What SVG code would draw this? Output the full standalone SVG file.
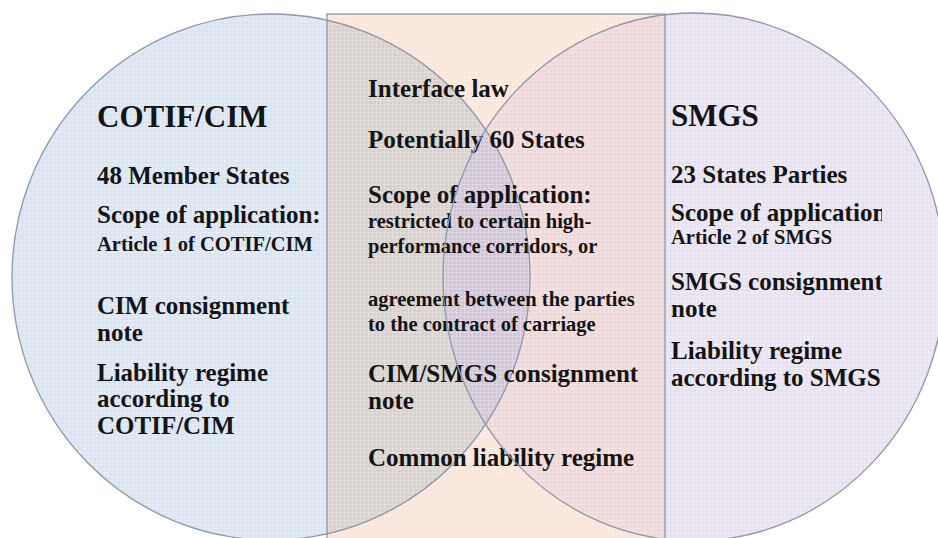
<svg xmlns="http://www.w3.org/2000/svg" width="938" height="538" viewBox="0 0 938 538">
  <style>
    .t { font-family: "Liberation Serif", "Times New Roman", serif; font-weight: bold; fill: #141414; }
    .xl { font-size: 31px; }
    .l { font-size: 25px; }
    .s { font-size: 20.5px; }
    .edge { fill: none; stroke: #8b98ad; stroke-width: 1.3; }
  </style>
  <defs>
    <clipPath id="clip-rect"><rect x="327" y="14" width="338" height="540"/></clipPath>
    <clipPath id="clip-left"><ellipse cx="271" cy="277" rx="259" ry="263"/></clipPath>
    <clipPath id="clip-union">
      <ellipse cx="271" cy="277" rx="259" ry="263"/>
      <rect x="327" y="14" width="338" height="540"/>
      <ellipse cx="694" cy="277" rx="251" ry="264"/>
    </clipPath>
    <clipPath id="clip-right-text"><rect x="660" y="0" width="222" height="538"/></clipPath>
    <pattern id="grid" width="4" height="4" patternUnits="userSpaceOnUse">
      <path d="M0 0.5H4M0.5 0V4" stroke="#ffffff" stroke-opacity="0.22" stroke-width="1" fill="none"/>
    </pattern>
  </defs>
  <rect width="938" height="538" fill="#ffffff"/>

  <g id="region-fills">
    <ellipse cx="271" cy="277" rx="259" ry="263" fill="#dae5f2"/>
    <rect x="327" y="14" width="338" height="540" fill="#fce5d6"/>
    <ellipse cx="694" cy="277" rx="251" ry="264" fill="#e8e2f0"/>
    <ellipse cx="271" cy="277" rx="259" ry="263" fill="#d9d1cd" clip-path="url(#clip-rect)"/>
    <ellipse cx="694" cy="277" rx="251" ry="264" fill="#f1d7d8" clip-path="url(#clip-rect)"/>
    <g clip-path="url(#clip-left)">
      <ellipse cx="694" cy="277" rx="251" ry="264" fill="#d3c6d8"/>
    </g>
    <rect width="938" height="538" fill="url(#grid)" clip-path="url(#clip-union)"/>
  </g>

  <g id="cotif-cim">
    <ellipse class="edge" cx="271" cy="277" rx="259" ry="263"/>
    <text class="t xl" x="97" y="127">COTIF/CIM</text>
    <text class="t l" x="97" y="184">48 Member States</text>
    <text class="t l" x="97" y="223">Scope of application:</text>
    <text class="t s" x="97" y="251">Article 1 of COTIF/CIM</text>
    <text class="t l" x="97" y="314">CIM consignment</text>
    <text class="t l" x="97" y="341">note</text>
    <text class="t l" x="97" y="381">Liability regime</text>
    <text class="t l" x="97" y="407">according to</text>
    <text class="t l" x="97" y="434">COTIF/CIM</text>
  </g>

  <g id="interface-law">
    <rect class="edge" x="327" y="14" width="338" height="540"/>
    <text class="t l" x="368" y="97">Interface law</text>
    <text class="t l" x="368" y="148">Potentially 60 States</text>
    <text class="t l" x="368" y="203">Scope of application:</text>
    <text class="t s" x="368" y="228">restricted to certain high-</text>
    <text class="t s" x="368" y="253">performance corridors, or</text>
    <text class="t s" x="368" y="306">agreement between the parties</text>
    <text class="t s" x="368" y="331">to the contract of carriage</text>
    <text class="t l" x="368" y="382">CIM/SMGS consignment</text>
    <text class="t l" x="368" y="409">note</text>
    <text class="t l" x="368" y="466">Common liability regime</text>
  </g>

  <g id="smgs">
    <ellipse class="edge" cx="694" cy="277" rx="251" ry="264"/>
    <text class="t xl" x="671" y="126">SMGS</text>
    <text class="t l" x="671" y="183">23 States Parties</text>
    <g clip-path="url(#clip-right-text)">
      <text class="t l" x="671" y="221">Scope of application:</text>
      <text class="t l" x="671" y="290">SMGS consignment</text>
    </g>
    <text class="t s" x="671" y="244">Article 2 of SMGS</text>
    <text class="t l" x="671" y="317">note</text>
    <text class="t l" x="671" y="359">Liability regime</text>
    <text class="t l" x="671" y="386">according to SMGS</text>
  </g>
</svg>
